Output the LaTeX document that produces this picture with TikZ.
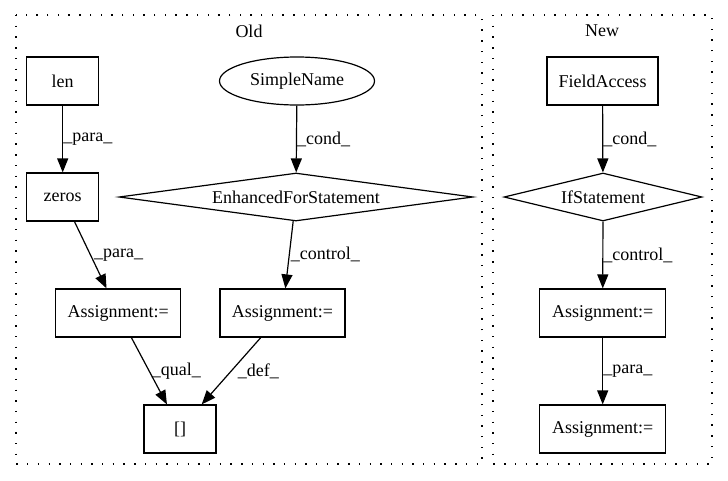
\documentclass[tikz,border=0pt]{standalone}
\usepackage{fontspec}
\setmainfont{Liberation Serif}
\usetikzlibrary{shapes.geometric,arrows.meta}
\begin{document}
\begin{tikzpicture}[x=1pt,y=-1pt,
  every node/.style={font=\fontsize{18}{21}\selectfont},
  box/.style={draw,line width=1.2pt,rectangle,minimum height=48pt,inner sep=0pt},
  ell/.style={draw,line width=1.2pt,ellipse,inner sep=0pt},
  dia/.style={draw,line width=1.2pt,diamond,inner sep=0pt},
  conn/.style={line width=1.2pt,-{Triangle[length=14pt,width=11pt]}},
  lbl/.style={anchor=west,inner sep=0pt},
  clus/.style={draw,line width=1.4pt,dash pattern=on 1.4pt off 9.3pt}]
\useasboundingbox (0,0) rectangle (728,480);
% clusters
\draw[clus] (16,15) rectangle (482,464);
\draw[clus] (493,15) rectangle (712,464);
\node (toldt) at (249,31) {Old};
\node (tnewt) at (602,31) {New};
% Old nodes
\node[box,minimum width=72pt] (len) at (62.7,81) {len};
\node[ell,minimum width=155pt,minimum height=48pt] (sn) at (297,81) {SimpleName};
\node[box,minimum width=72pt] (zeros) at (62.7,197) {zeros};
\node[dia,aspect=7.375,minimum width=354pt,minimum height=48pt] (efs) at (296,197) {EnhancedForStatement};
\node[box,minimum width=125pt] (a1) at (118.3,313) {Assignment:=};
\node[box,minimum width=125pt] (a2) at (282.5,313) {Assignment:=};
\node[box,minimum width=72pt] (br) at (180,429) {[]};
% New nodes
\node[box,minimum width=111pt] (fa) at (602.5,81) {FieldAccess};
\node[dia,aspect=4.125,minimum width=198pt,minimum height=48pt] (ifs) at (603,197) {IfStatement};
\node[box,minimum width=126pt] (na1) at (602.7,313) {Assignment:=};
\node[box,minimum width=126pt] (na2) at (602.7,429) {Assignment:=};
% Old edges
\draw[conn] (len) -- node[lbl,pos=0.5] {\_para\_} (zeros);
\draw[conn] (sn) -- node[lbl,pos=0.5] {\_cond\_} (efs);
\draw[conn] (zeros) -- node[lbl,pos=0.5,xshift=3pt] {\_para\_} (a1);
\draw[conn] (efs) -- node[lbl,pos=0.5,xshift=1pt] {\_control\_} (a2);
\draw[conn] (a1) -- node[lbl,pos=0.5,xshift=2pt] {\_qual\_} (br);
\draw[conn] (a2) -- node[lbl,pos=0.5,xshift=6pt] {\_def\_} (br);
% New edges
\draw[conn] (fa) -- node[lbl,pos=0.5] {\_cond\_} (ifs);
\draw[conn] (ifs) -- node[lbl,pos=0.5] {\_control\_} (na1);
\draw[conn] (na1) -- node[lbl,pos=0.5] {\_para\_} (na2);
\end{tikzpicture}
\end{document}
